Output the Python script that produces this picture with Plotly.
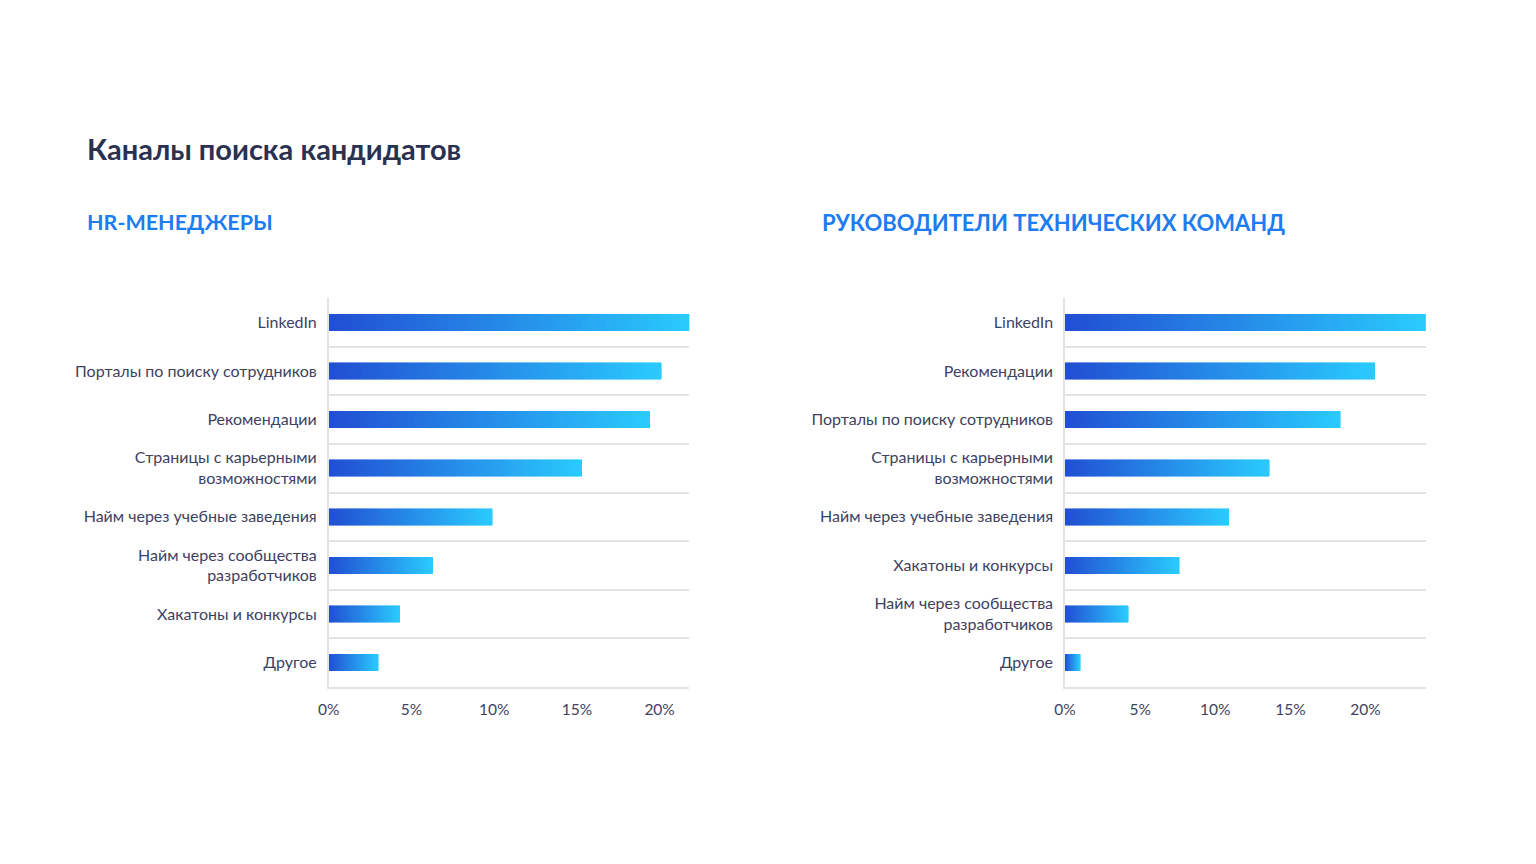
import plotly.graph_objects as go
from plotly.subplots import make_subplots

# ---- data ----
hr_categories = ["LinkedIn", "Порталы по поиску сотрудников", "Рекомендации",
                 "Страницы с карьерными<br>возможностями", "Найм через учебные заведения",
                 "Найм через сообщества<br>разработчиков", "Хакатоны и конкурсы", "Другое"]
hr_values = [21.9, 20.1, 19.4, 15.3, 9.9, 6.3, 4.3, 3.0]

tl_categories = ["LinkedIn", "Рекомендации", "Порталы по поиску сотрудников",
                 "Страницы с карьерными<br>возможностями", "Найм через учебные заведения",
                 "Хакатоны и конкурсы", "Найм через сообщества<br>разработчиков", "Другое"]
tl_values = [24.0, 20.6, 18.3, 13.6, 10.9, 7.6, 4.2, 1.0]

x_ticks = [0, 5, 10, 15, 20]
x_tick_labels = ["0%", "5%", "10%", "15%", "20%"]

title_text = "Каналы поиска кандидатов"
left_subtitle = "HR-МЕНЕДЖЕРЫ"
right_subtitle = "РУКОВОДИТЕЛИ ТЕХНИЧЕСКИХ КОМАНД"

# ---- style ----
FONT = "Lato"
C_START = (0x21, 0x4f, 0xd3)
C_END = (0x2a, 0xca, 0xfe)
N_SEG = 60
GRID = "#e4e4e6"
TXT = "#3d4262"

OFF = 8
W, H = 1536 - 2 * OFF, 864 - 2 * OFF


def px_x(p):
    # empirical screen->paper correction
    return ((p - 18) / 0.9937) / W


def px_y(p):
    return 1 - (p - OFF) / H


def grad_color(t):
    r = round(C_START[0] + (C_END[0] - C_START[0]) * t)
    g = round(C_START[1] + (C_END[1] - C_START[1]) * t)
    b = round(C_START[2] + (C_END[2] - C_START[2]) * t)
    return f"rgb({r},{g},{b})"


fig = make_subplots(rows=1, cols=2)

for col, cats, vals in [(1, hr_categories, hr_values), (2, tl_categories, tl_values)]:
    for k in range(N_SEG):
        c = grad_color(k / (N_SEG - 1))
        fig.add_trace(go.Bar(
            x=[v / N_SEG for v in vals], y=cats, orientation="h",
            width=0.34,
            marker=dict(color=c, line=dict(color=c, width=0.6)),
            showlegend=False, hoverinfo="skip",
        ), row=1, col=col)

ydom = [px_y(687), px_y(298)]
fig.update_layout(
    width=W, height=H, barmode="stack",
    margin=dict(l=0, r=0, t=0, b=0),
    paper_bgcolor="#ffffff", plot_bgcolor="#ffffff",
    font=dict(family=FONT, color=TXT, size=16),
    xaxis=dict(domain=[px_x(328), px_x(689)], range=[0, 21.8]),
    xaxis2=dict(domain=[px_x(1065), px_x(1426)], range=[0, 24.0]),
    yaxis=dict(domain=ydom),
    yaxis2=dict(domain=ydom),
)
for ax in ["xaxis", "xaxis2"]:
    fig.layout[ax].update(
        tickmode="array", tickvals=x_ticks, ticktext=x_tick_labels,
        showgrid=False, zeroline=False,
        showline=True, linecolor=GRID, linewidth=1.5,
        ticks="", ticklabelstandoff=8,
        tickfont=dict(size=15.5, color=TXT, family=FONT), fixedrange=True,
    )
for ax, cats in [("yaxis", hr_categories), ("yaxis2", tl_categories)]:
    fig.layout[ax].update(
        categoryorder="array", categoryarray=cats,
        range=[7.5, -0.5],
        tickson="boundaries", showgrid=True, gridcolor=GRID, gridwidth=1.5,
        showline=True, linecolor=GRID, linewidth=1.5, zeroline=False,
        ticks="", ticklabelstandoff=7,
        tickfont=dict(size=16, color=TXT, family=FONT), fixedrange=True,
    )

fig.add_annotation(text=f"<b>{title_text}</b>", xref="paper", yref="paper",
                   x=px_x(84), y=px_y(149), xanchor="left", yanchor="middle",
                   showarrow=False, font=dict(family=FONT, size=29, color="#2a3150"))
fig.add_annotation(text=f"<b>{left_subtitle}</b>", xref="paper", yref="paper",
                   x=px_x(84), y=px_y(222), xanchor="left", yanchor="middle",
                   showarrow=False, font=dict(family=FONT, size=21.5, color="#1d7cf0"))
fig.add_annotation(text=f"<b>{right_subtitle}</b>", xref="paper", yref="paper",
                   x=px_x(820), y=px_y(222), xanchor="left", yanchor="middle",
                   showarrow=False, font=dict(family=FONT, size=22, color="#1d7cf0"))

fig.write_html("out.html")
